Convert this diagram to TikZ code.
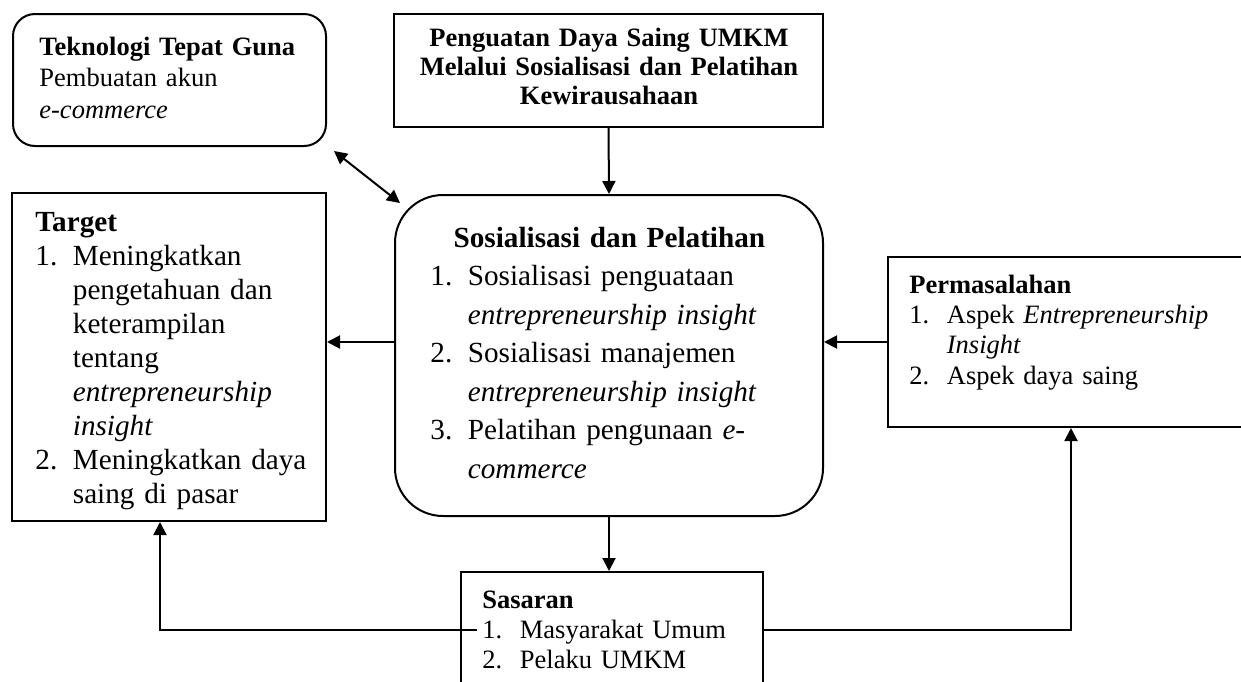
\documentclass[tikz,border=0pt]{standalone}
\usepackage{fontspec}
\setmainfont{Liberation Serif}
\usepackage{tikz}
\usetikzlibrary{fit,arrows.meta}

\newcommand{\numitem}[2]{\par\hangindent=18.75pt\hangafter=1\noindent\makebox[18.75pt][l]{#1}#2\par}

\begin{document}
\begin{tikzpicture}[x=0.5pt,y=-0.5pt,
    sqbox/.style={draw, rectangle, line width=1pt, inner sep=0pt},
    rndbox/.style={sqbox, rounded corners=#1},
    smalltxt/.style={inner sep=0pt, anchor=base west, align=left, font=\fontsize{13.25pt}{15.2pt}\selectfont},
    bigtxt/.style={inner sep=0pt, anchor=base west, align=left, font=\fontsize{14.6pt}{17pt}\selectfont},
    arr/.style={line width=1pt, -{Triangle[length=6.5pt,width=6.5pt]}},
    dblarr/.style={line width=1pt, {Triangle[length=6.5pt,width=6.5pt]}-{Triangle[length=6.5pt,width=6.5pt]}}]
    \useasboundingbox (0,0) rectangle (1241,681);
    \clip (0,0) rectangle (1241,681);

    \coordinate (TG1) at (13,14);
    \coordinate (TG2) at (326,146);
    \coordinate (PD1) at (394,14);
    \coordinate (PD2) at (823,127);
    \coordinate (TR1) at (12,193);
    \coordinate (TR2) at (326,521);
    \coordinate (SP1) at (395,195);
    \coordinate (SP2) at (823,516);
    \coordinate (PM1) at (888,257);
    \coordinate (PM2) at (1280,427);
    \coordinate (SS1) at (461,572);
    \coordinate (SS2) at (763,720);

    \node [rndbox=11pt, fit=(TG1)(TG2)] (tekno) {};
    \node [sqbox, fit=(PD1)(PD2)] (penguatan) {};
    \node [sqbox, fit=(TR1)(TR2)] (target) {};
    \node [rndbox=24pt, fit=(SP1)(SP2)] (sosial) {};
    \node [sqbox, fit=(PM1)(PM2)] (masalah) {};
    \node [sqbox, fit=(SS1)(SS2)] (sasaran) {};

    \node [smalltxt, text width=150pt, font=\fontsize{13.25pt}{15.9pt}\selectfont] (tekno-txt) at (39,55)
    {\textbf{Teknologi Tepat Guna}\\Pembuatan akun\\\textit{e-commerce}};

    \node [inner sep=0pt, anchor=base, align=center, text width=205pt,
      font=\bfseries\fontsize{13.25pt}{14.5pt}\selectfont] (penguatan-txt) at (609,46)
    {Penguatan Daya Saing UMKM\\Melalui Sosialisasi dan Pelatihan\\Kewirausahaan};

    \node [bigtxt, text width=150pt] (target-txt) at (35,231)
    {\textbf{Target}
     \numitem{1.}{Meningkatkan\newline pengetahuan dan\newline keterampilan\newline tentang\newline \textit{entrepreneurship}\newline \textit{insight}}
     \numitem{2.}{Meningkatkan daya\newline saing di pasar}};

    \node [bigtxt, text width=179pt, font=\fontsize{14.6pt}{19.25pt}\selectfont] (sosial-txt) at (430,247)
    {\centerline{\textbf{Sosialisasi dan Pelatihan}}
     \numitem{1.}{Sosialisasi penguataan\newline \textit{entrepreneurship insight}}
     \numitem{2.}{Sosialisasi manajemen\newline \textit{entrepreneurship insight}}
     \numitem{3.}{Pelatihan pengunaan \textit{e-}\newline \textit{commerce}}};

    \node [smalltxt, text width=165pt] (masalah-txt) at (909,293)
    {\textbf{Permasalahan}
     \numitem{1.}{Aspek \textit{Entrepreneurship}\newline \textit{Insight}}
     \numitem{2.}{Aspek daya saing}};

    \node [smalltxt, text width=140pt] (sasaran-txt) at (482,608)
    {\textbf{Sasaran}
     \numitem{1.}{Masyarakat Umum}
     \numitem{2.}{Pelaku UMKM}};

    \coordinate (bendL) at (160,630);
    \coordinate (bendR) at (1071,630);

    \draw [arr] (penguatan.south) -- (sosial.north);
    \draw [dblarr] ([shift={(7,4)}]tekno.south east) -- ([shift={(6,9)}]sosial.north west);
    \draw [arr] (sosial.west |- masalah.west) -- (target.east |- masalah.west);
    \draw [arr] (masalah.west) -- (sosial.east |- masalah.west);
    \draw [arr] (sosial.south) -- (sosial.south |- sasaran.north);
    \draw [arr] ([xshift=8.5pt]sasaran.west |- bendL) -- (bendL) -- (bendL |- target.south);
    \draw [arr] (sasaran.east |- bendR) -- (bendR) -- (bendR |- masalah.south);

\end{tikzpicture}
\end{document}
